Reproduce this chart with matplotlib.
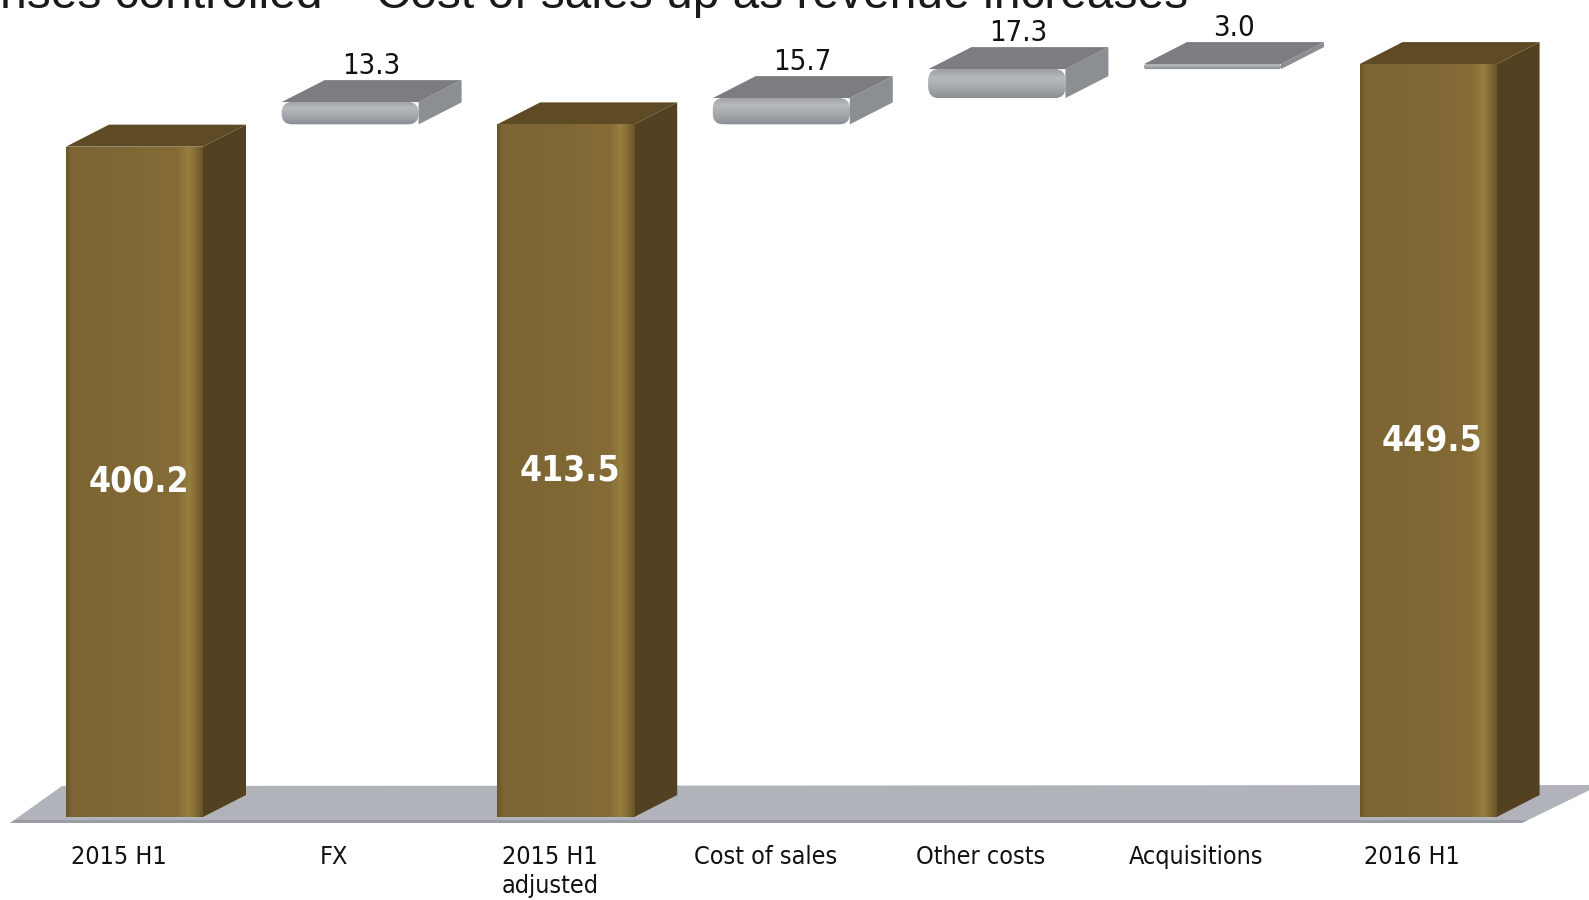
import numpy as np
import matplotlib
matplotlib.use("Agg")
import matplotlib.pyplot as plt
from matplotlib.patches import Polygon, FancyBboxPatch
from matplotlib.colors import LinearSegmentedColormap

# ---------------- data ----------------
categories = ["2015 H1", "FX", "2015 H1\nadjusted", "Cost of sales",
              "Other costs", "Acquisitions", "2016 H1"]
total_idx = [0, 2, 6]
total_values = [400.2, 413.5, 449.5]
change_idx = [1, 3, 4, 5]
change_values = [13.3, 15.7, 17.3, 3.0]
change_base = [413.5, 413.5, 429.2, 446.5]   # where each slab sits
title_text = "nses controlled \u2013 Cost of sales up as revenue increases"

# ---------------- layout ----------------
W_PX, H_PX = 1589, 900
PX_X = 215.6            # pixels per category
PX_Y = 1.675            # pixels per value unit
X_ORIGIN_PX = 134.5     # pixel x of first category centre
BASE_PX = 817           # pixel y of value 0

X0 = -X_ORIGIN_PX / PX_X
X1 = X0 + W_PX / PX_X
Y1 = BASE_PX / PX_Y
Y0 = Y1 - H_PX / PX_Y

BW = 137 / PX_X         # bar front width
DX = 43 / PX_X          # depth offset (x)
DY = 22 / PX_Y          # depth offset (y)

fig = plt.figure(figsize=(W_PX / 100, H_PX / 100), dpi=100)
fig.patch.set_facecolor("white")
ax = fig.add_axes([0, 0, 1, 1])
ax.set_xlim(X0, X1)
ax.set_ylim(Y0, Y1)
ax.axis("off")

def px2x(p):
    return (p - X_ORIGIN_PX) / PX_X

def px2y(p):
    return (BASE_PX - p) / PX_Y

# ---------------- floor ----------------
floor = Polygon([(px2x(10), px2y(823)), (px2x(1522), px2y(823)),
                 (px2x(1600), px2y(785)), (px2x(62), px2y(786))],
                closed=True, facecolor="#B0B3BA", edgecolor="none", zorder=1)
ax.add_patch(floor)
floor_edge = Polygon([(px2x(10), px2y(823)), (px2x(1522), px2y(823)),
                      (px2x(1527), px2y(820)), (px2x(15), px2y(820))],
                     closed=True, facecolor="#9A9DA3", edgecolor="none", zorder=1.1)
ax.add_patch(floor_edge)

# ---------------- total bars ----------------
brown_cmap = LinearSegmentedColormap.from_list(
    "brown", [(0.0, "#6A5629"), (0.04, "#7C6533"), (0.5, "#806835"),
              (0.82, "#856C37"), (0.9, "#96803F"), (0.96, "#7F6733"), (1.0, "#6A5529")])
grey_cmap = LinearSegmentedColormap.from_list(
    "greyv", [(0.0, "#8C8F94"), (0.35, "#A4A7AB"), (0.7, "#B6B9BD"), (1.0, "#9C9FA4")])

zo = 3
tot_bars = ax.bar(total_idx, total_values, width=BW, bottom=0,
                  color="#806835", edgecolor="none", zorder=zo + 2)
for i, v, rect in zip(total_idx, total_values, tot_bars):
    xl, xr = i - BW / 2, i + BW / 2
    side = Polygon([(xr, 0), (xr + DX, DY), (xr + DX, v + DY), (xr, v)],
                   closed=True, facecolor="#524221", edgecolor="none", zorder=zo)
    top = Polygon([(xl, v), (xr, v), (xr + DX, v + DY), (xl + DX, v + DY)],
                  closed=True, facecolor="#5E4B25", edgecolor="none", zorder=zo + 1)
    ax.add_patch(side)
    ax.add_patch(top)
    grad = np.linspace(0, 1, 256).reshape(1, -1)
    im = ax.imshow(grad, extent=[xl, xr, 0, v], cmap=brown_cmap, aspect="auto",
                   zorder=zo + 2.5, interpolation="bilinear")
    im.set_clip_path(rect)
    ax.text(i + 0.02, v / 2, f"{v:.1f}", color="white", fontsize=25.5,
            fontweight="bold", family="DejaVu Sans", fontstretch="condensed",
            ha="center", va="center", zorder=zo + 4)

# ---------------- floating change slabs ----------------
chg_bars = ax.bar(change_idx, change_values, width=BW, bottom=change_base,
                  color="#A5A8AC", edgecolor="none", zorder=zo + 2)
for i, v, b, rect in zip(change_idx, change_values, change_base, chg_bars):
    rect.set_visible(False)
    xl, xr = i - BW / 2, i + BW / 2
    t = b + v
    side = Polygon([(xr, b), (xr + DX, b + DY), (xr + DX, t + DY), (xr, t)],
                   closed=True, facecolor="#8B8E92", edgecolor="none", zorder=zo)
    top = Polygon([(xl, t), (xr, t), (xr + DX, t + DY), (xl + DX, t + DY)],
                  closed=True, facecolor="#7B7D81", edgecolor="none", zorder=zo + 1,
                  joinstyle="round")
    ax.add_patch(side)
    ax.add_patch(top)
    h_px = v * PX_Y
    r_px = min(11, h_px / 2)
    front = FancyBboxPatch((xl, b), BW, v,
                           boxstyle=f"round,pad=0,rounding_size={r_px / PX_X}",
                           mutation_aspect=PX_X / PX_Y,
                           facecolor="#A5A8AC", edgecolor="none", zorder=zo + 2)
    ax.add_patch(front)
    grad = np.linspace(0, 1, 64).reshape(-1, 1)
    im = ax.imshow(grad, extent=[xl, xr, b, t], cmap=grey_cmap, aspect="auto",
                   origin="lower", zorder=zo + 2.5, interpolation="bilinear")
    im.set_clip_path(front)
    ax.text(i + DX / 2, t + DY, f"{v:.1f}", color="#111111", fontsize=21,
            family="DejaVu Sans", fontstretch="condensed",
            ha="center", va="bottom", zorder=zo + 4)

# ---------------- category labels ----------------
for i, lab in enumerate(categories):
    ax.text(i - 16 / PX_X, px2y(845), lab, color="#111111", fontsize=18,
            family="DejaVu Sans", fontstretch="condensed",
            ha="center", va="top", linespacing=1.28, zorder=zo + 4)

ax.set_xlim(X0, X1)
ax.set_ylim(Y0, Y1)

# ---------------- clipped title ----------------
fig.text(0.0, 1 - 8 / H_PX, title_text, family="Liberation Sans", fontsize=34.5,
         color="#1A1A1A", ha="left", va="baseline")

fig.savefig("out.png", dpi=100, facecolor="white")
